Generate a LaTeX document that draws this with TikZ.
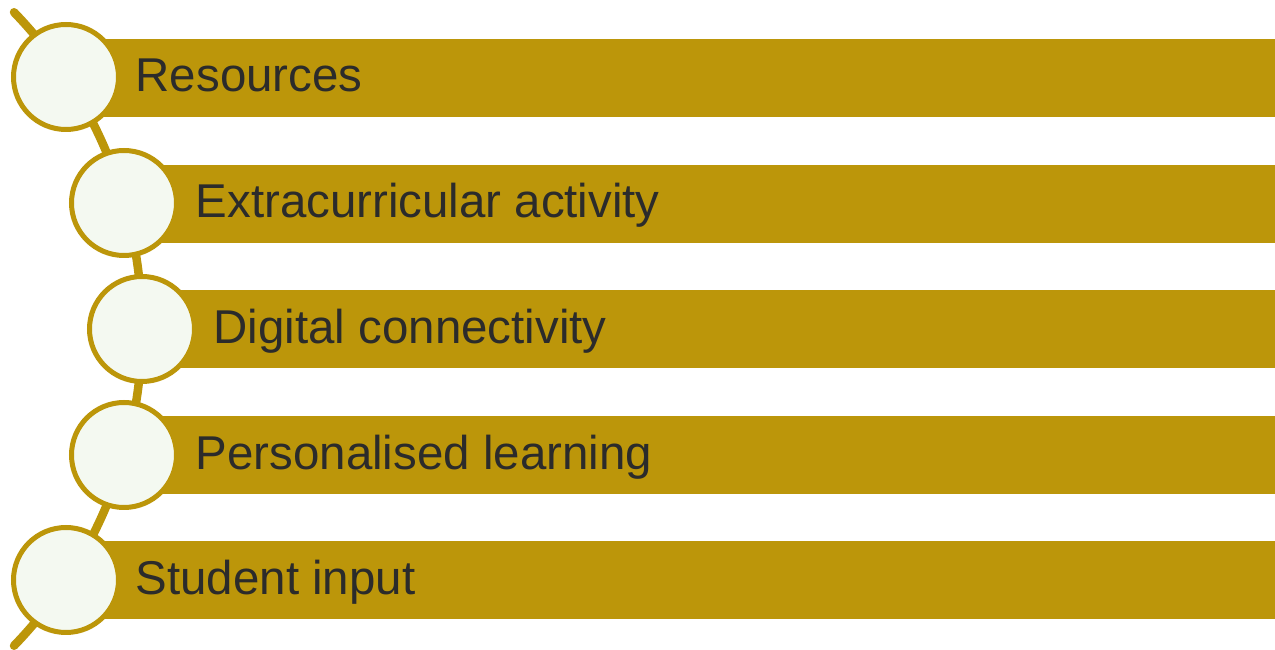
\documentclass[tikz,border=0pt]{standalone}
\usepackage{fontspec}
\setmainfont{Liberation Sans}
\usetikzlibrary{positioning}
\definecolor{listgold}{HTML}{BC960A}
\definecolor{listpale}{HTML}{F4F9F1}
\definecolor{listtext}{HTML}{2B2B2B}

\tikzset{
  spine/.style={listgold, line width=0.085cm, line cap=round},
  bar/.style={fill=listgold, inner sep=0pt, minimum height=0.78cm, anchor=west},
  bead/.style={circle, draw=listgold, line width=0.05cm, fill=listpale, minimum size=1.05cm, inner sep=0pt},
  lbl/.style={inner sep=0pt, text=listtext, font=\fontsize{13.5}{16}\selectfont, text height=0.72em, text depth=0pt, yshift=-0.02cm}
}

\begin{document}
\begin{tikzpicture}
\useasboundingbox (0,0) rectangle (12.75,-6.5);

% curved spine behind the beads
\draw[spine] (-3.14,-3.29) ++(44:4.56) arc[start angle=44, end angle=-44, radius=4.56];

% bars
\node[bar, minimum width=12.09cm] (b1) at (0.66,-0.78) {};
\node[bar, minimum width=11.51cm] (b2) at (1.24,-2.04) {};
\node[bar, minimum width=11.33cm] (b3) at (1.42,-3.29) {};
\node[bar, minimum width=11.51cm] (b4) at (1.24,-4.55) {};
\node[bar, minimum width=12.09cm] (b5) at (0.66,-5.80) {};

% beads
\node[bead] (c1) at (0.66,-0.77) {};
\node[bead] (c2) at (1.24,-2.03) {};
\node[bead] (c3) at (1.42,-3.29) {};
\node[bead] (c4) at (1.24,-4.55) {};
\node[bead] (c5) at (0.66,-5.80) {};

% labels
\node[lbl, right=0.69cm of c1.center] (t1) {Resources};
\node[lbl, right=0.71cm of c2.center] (t2) {Extracurricular activity};
\node[lbl, right=0.71cm of c3.center] (t3) {Digital connectivity};
\node[lbl, right=0.71cm of c4.center] (t4) {Personalised learning};
\node[lbl, right=0.69cm of c5.center] (t5) {Student input};
\end{tikzpicture}
\end{document}
